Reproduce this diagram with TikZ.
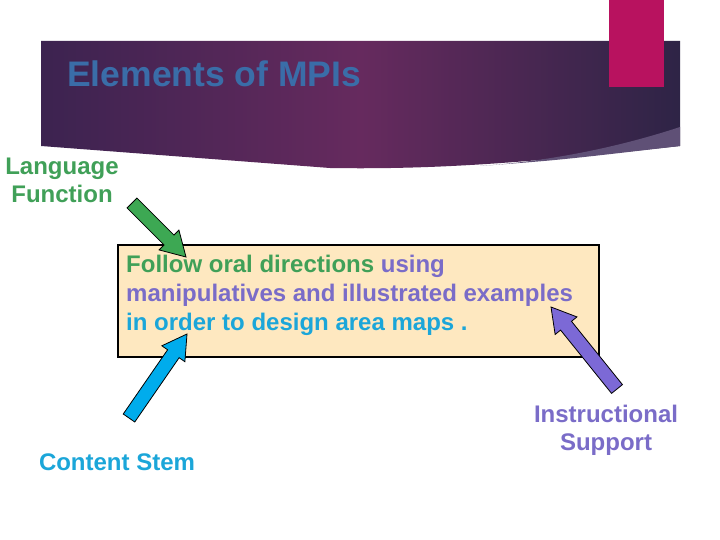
\documentclass[tikz,border=0pt]{standalone}
\usepackage{fontspec}
\setmainfont{Liberation Sans}
\usetikzlibrary{calc}

\definecolor{langgreen}{HTML}{40A058}
\definecolor{langarrow}{HTML}{3DA853}
\definecolor{stemblue}{HTML}{1BA6D9}
\definecolor{stemarrow}{HTML}{00ACEC}
\definecolor{suppurple}{HTML}{7A6CC8}
\definecolor{suparrow}{HTML}{7C69D6}
\definecolor{titleblue}{HTML}{3A6DA8}
\definecolor{boxfill}{HTML}{FEE8C0}
\definecolor{accent}{HTML}{B8125F}
\definecolor{bannerL}{HTML}{3C2350}
\definecolor{bannerM}{HTML}{662A5E}
\definecolor{bannerR}{HTML}{2E2446}
\definecolor{wedge}{HTML}{5F5076}

% block arrow: tail, tip, colour
\newcommand{\blockarrow}[3]{%
  \coordinate (bh) at ($(#2)!24pt!(#1)$);
  \draw[fill=#3, line width=0.8pt, line join=miter]
    ($(#1)!7pt!90:(#2)$) -- ($(bh)!7pt!90:(#2)$) -- ($(bh)!14pt!90:(#2)$) -- (#2)
    -- ($(bh)!14pt!-90:(#2)$) -- ($(bh)!7pt!-90:(#2)$) -- ($(#1)!7pt!-90:(#2)$) -- cycle;}

\tikzset{
  lbl/.style={font=\bfseries\fontsize{24}{28}\selectfont, align=center, inner sep=0pt},
  body/.style={font=\bfseries\fontsize{24}{29}\selectfont, align=left, inner sep=0pt},
  mpibox/.style={draw=black, line width=1.8pt, fill=boxfill, inner sep=0pt}
}

\begin{document}
\begin{tikzpicture}[x=1pt,y=-1pt]
\useasboundingbox (0,0) rectangle (720,540);
\fill[white] (0,0) rectangle (720,540);

% banner
\shade[left color=bannerL, right color=bannerR, middle color=bannerM]
  (41,41) -- (680,41) -- (680,146) .. controls (550,160) and (450,170) .. (330,168) -- (41,146) -- cycle;
\fill[wedge] (680,127) .. controls (610,150) and (540,162) .. (480,166)
  .. controls (560,160) .. (680,146) -- cycle;
\fill[accent] (609,0) rectangle (664,87);

\node[anchor=base west, inner sep=0pt, text=titleblue, font=\bfseries\fontsize{35.5}{40}\selectfont] (title) at (67,87) {Elements of MPIs};

% the MPI
\node[mpibox, anchor=north west, minimum width=481pt, minimum height=112pt] (mpi) at (117,244) {};
\node[body, anchor=base west] (mpitext) at (126,330)
  {\color{langgreen}Follow oral directions \color{suppurple}using\\
   \color{suppurple}manipulatives and illustrated examples\\
   \color{stemblue}in order to design area maps .};

% labels
\node[lbl, text=langgreen] (lang) at (62,180) {Language\\Function};
\node[lbl, text=stemblue] (stem) at (117,462) {Content Stem};
\node[lbl, text=suppurple] (support) at (606,430) {Instructional\\Support};

% arrows
\coordinate (langtail) at (132,203);
\coordinate (langtip) at (186,257);
\coordinate (stemtail) at (129,418);
\coordinate (stemtip) at (187,334);
\coordinate (suptail) at (617,389);
\coordinate (suptip) at (551,307);
\blockarrow{langtail}{langtip}{langarrow}
\blockarrow{stemtail}{stemtip}{stemarrow}
\blockarrow{suptail}{suptip}{suparrow}
\end{tikzpicture}
\end{document}
